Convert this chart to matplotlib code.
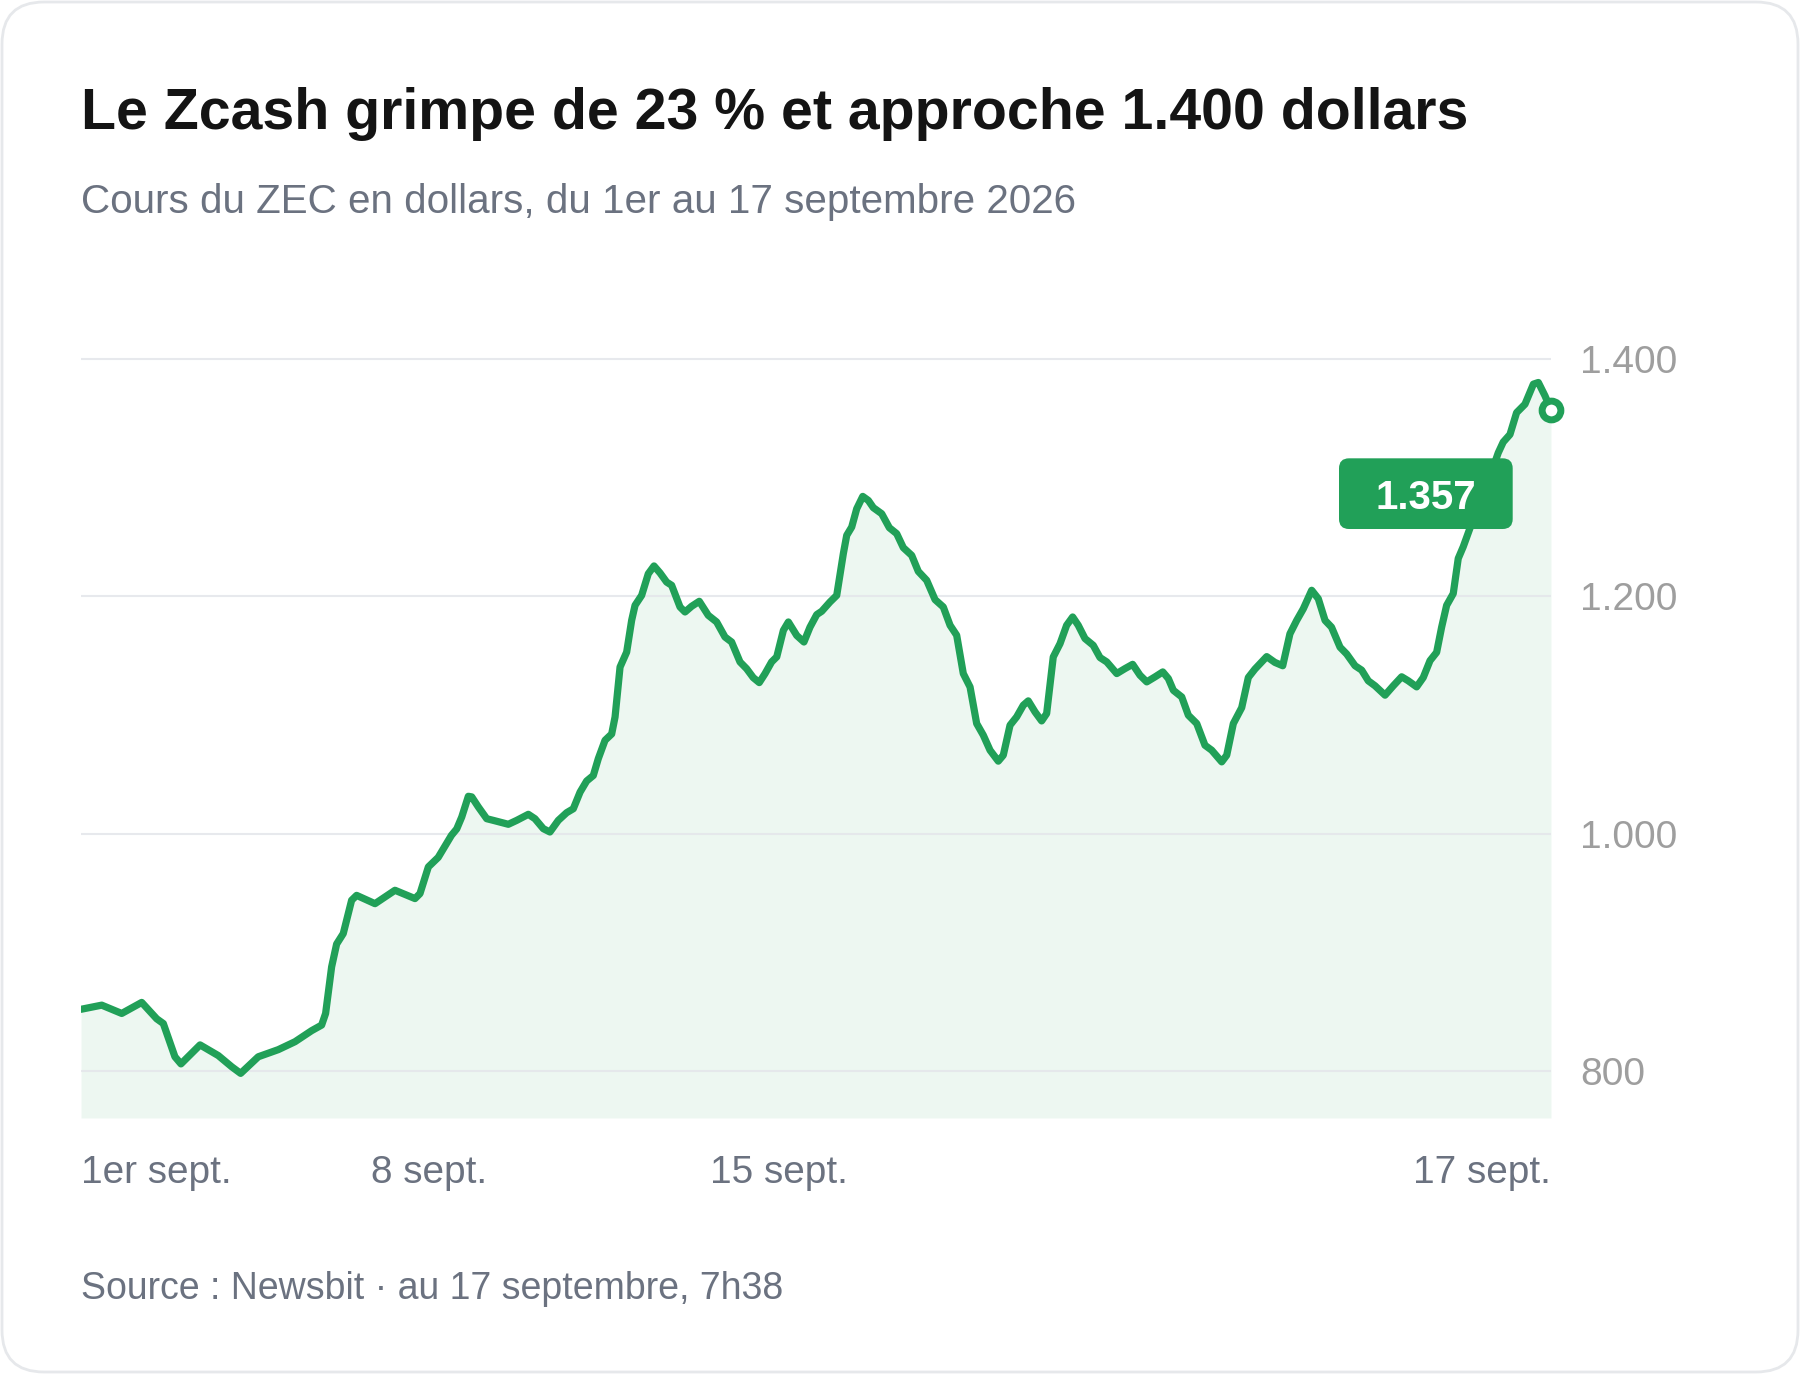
import matplotlib
matplotlib.use("Agg")
import matplotlib.pyplot as plt
from matplotlib.patches import FancyBboxPatch
from matplotlib.transforms import ScaledTranslation

plt.rcParams['font.family'] = ['Liberation Sans', 'DejaVu Sans']

# position along the timeline (0 = 1er sept., 100 = 17 sept. 7h38) and ZEC price in dollars
t = [0.00, 1.41, 2.77, 4.13, 5.15, 5.60, 6.39, 6.80, 8.10, 9.34,
     10.25, 10.86, 12.06, 13.42, 14.56, 15.69, 16.37, 16.64, 17.05, 17.39,
     17.84, 18.41, 18.75, 20.00, 21.36, 22.72, 23.06, 23.63, 24.30, 25.20,
     25.56, 25.90, 26.35, 26.58, 27.03, 27.60, 28.05, 29.07, 29.64, 30.43,
     30.88, 31.45, 31.90, 32.47, 33.04, 33.49, 33.95, 34.40, 34.85, 35.19,
     35.65, 36.10, 36.33, 36.67, 37.12, 37.46, 37.69, 38.14, 38.59, 38.98,
     39.39, 39.84, 40.18, 40.75, 41.09, 41.54, 42.06, 42.67, 43.24, 43.81,
     44.26, 44.83, 45.28, 45.73, 46.14, 46.53, 46.98, 47.33, 47.78, 48.12,
     48.69, 49.18, 49.59, 50.05, 50.39, 50.95, 51.41, 51.86, 52.09, 52.43,
     52.77, 53.18, 53.56, 53.90, 54.47, 54.99, 55.49, 55.94, 56.51, 56.96,
     57.53, 58.10, 58.66, 59.12, 59.57, 60.02, 60.48, 60.93, 61.38, 61.84,
     62.40, 62.74, 63.20, 63.65, 64.10, 64.44, 64.90, 65.35, 65.69, 66.14,
     66.60, 67.05, 67.46, 67.84, 68.30, 68.86, 69.32, 69.78, 70.46, 71.02,
     71.54, 72.04, 72.50, 73.06, 73.59, 73.97, 74.31, 74.88, 75.33, 75.90,
     76.46, 76.92, 77.60, 77.94, 78.39, 78.96, 79.41, 79.86, 80.66, 81.22,
     81.75, 82.24, 82.70, 83.15, 83.72, 84.17, 84.63, 85.07, 85.65, 86.10,
     86.67, 87.12, 87.57, 88.03, 88.71, 89.27, 89.84, 90.29, 90.86, 91.31,
     91.77, 92.22, 92.56, 92.90, 93.35, 93.69, 94.03, 94.61, 95.17, 95.85,
     96.41, 96.75, 97.21, 97.66, 98.23, 98.80, 99.14, 99.59, 100.00]
price = [852, 855.5, 848.5, 857.8, 844, 840, 812, 806, 822, 813,
         803.6, 798, 812, 818, 824.7, 834, 838.7, 848.5, 887.8, 907,
         915.8, 943.9, 948, 941, 952.3, 945.3, 949.5, 972, 980, 998.6,
         1004, 1014, 1031.5, 1031, 1022.5, 1012.6, 1011.2, 1007.9, 1011.2, 1016.3,
         1012.6, 1004.2, 1001.4, 1011.2, 1017.7, 1021, 1035, 1044.4, 1049, 1063.2,
         1078.7, 1084, 1098.3, 1140.4, 1153, 1179.8, 1192.4, 1200.8, 1219, 1225.6,
         1219.7, 1212, 1209.3, 1191, 1186.8, 1191.6, 1195.8, 1184, 1178.4, 1165.7,
         1161.5, 1144.7, 1139, 1131.5, 1127.3, 1134.8, 1144.7, 1149, 1171.3, 1178.4,
         1167, 1161.5, 1174, 1184.6, 1187.4, 1195.2, 1200.8, 1236, 1251.4, 1258.4,
         1273.8, 1284.2, 1280.8, 1274.7, 1269.6, 1257.8, 1252.8, 1241, 1234.5, 1221,
         1213.5, 1197.2, 1191, 1175.6, 1167.2, 1134.9, 1123.6, 1092.8, 1083, 1070.3,
         1061.1, 1066.1, 1091.4, 1098.4, 1108.2, 1111.9, 1102.6, 1095, 1101.2, 1148.9,
         1160.1, 1175.6, 1182.6, 1175.6, 1164.4, 1158.7, 1148.4, 1144.7, 1134.9, 1139.1,
         1142.7, 1133.5, 1127.9, 1132.1, 1136.3, 1130.7, 1120.8, 1115.2, 1099.8, 1092.8,
         1074.5, 1070.3, 1060.5, 1066.1, 1092.8, 1106.2, 1131.6, 1138.7, 1149.2, 1144.3,
         1141.5, 1168.4, 1179.7, 1189.5, 1205.1, 1198, 1179.7, 1174, 1157.1, 1151.4,
         1141.5, 1137.8, 1128.8, 1124.6, 1116.7, 1124.6, 1132.2, 1128.8, 1123.7, 1131.6,
         1145.8, 1152.8, 1174, 1192.4, 1202.3, 1231.9, 1241.8, 1261.6, 1281, 1301,
         1320.9, 1330, 1336.4, 1354.8, 1361.9, 1378.8, 1380.2, 1369, 1357]

tick_pos = [0, 23.66, 47.5, 100]
tick_labels = ['1er sept.', '8 sept.', '15 sept.', '17 sept.']
y_ticks = [800, 1000, 1200, 1400]

title = "Le Zcash grimpe de 23 % et approche 1.400 dollars"
subtitle = "Cours du ZEC en dollars, du 1er au 17 septembre 2026"
source = "Source : Newsbit · au 17 septembre, 7h38"

GREEN = '#21a058'
GREY_TXT = '#6b7280'
GREY_TICK = '#9e9e9e'
y_min, y_max = 760.4, 1420

fig = plt.figure(figsize=(18, 13.74), dpi=100, facecolor='white')

card = FancyBboxPatch((0.02, 0.02), 17.96, 13.70, boxstyle="round,pad=0,rounding_size=0.42",
                      transform=fig.dpi_scale_trans, facecolor='white',
                      edgecolor='#e6e8eb', linewidth=2, zorder=-5)
fig.patches.append(card)

fig.text(81 / 1800, 1 - 129.3 / 1374, title, fontsize=41.2, fontweight='bold',
         color='#141414', va='baseline', ha='left')
fig.text(81 / 1800, 1 - 213.3 / 1374, subtitle, fontsize=29.1, color=GREY_TXT,
         va='baseline', ha='left')
fig.text(81 / 1800, 1 - 1299 / 1374, source, fontsize=27.0, color=GREY_TXT,
         va='baseline', ha='left')

ax = fig.add_axes([81 / 1800, 1 - 1118 / 1374, 1470 / 1800, (1118 - 335.25) / 1374])
ax.set_facecolor('none')
ax.set_xlim(0, 100)
ax.set_ylim(y_min, y_max)

ax.fill_between(t, price, y_min, color=GREEN, alpha=0.08, linewidth=0, zorder=1)
for yv in y_ticks:
    ax.axhline(yv, color='#e5e7eb', linewidth=1.5, zorder=2, alpha=0.9)
ax.plot(t, price, color=GREEN, linewidth=5.2, solid_joinstyle='round',
        solid_capstyle='round', zorder=3)
ax.plot(t[-1], price[-1], 'o', markersize=13.5, markerfacecolor='white',
        markeredgecolor=GREEN, markeredgewidth=5.0, zorder=5, clip_on=False)

for s in ax.spines.values():
    s.set_visible(False)

ax.yaxis.tick_right()
ax.set_yticks(y_ticks)
ax.set_yticklabels([f"{v:,}".replace(',', '.') for v in y_ticks])
ax.tick_params(axis='y', length=0, pad=20.9, labelsize=28, labelcolor=GREY_TICK)

ax.set_xticks(tick_pos)
ax.set_xticklabels(tick_labels)
ax.tick_params(axis='x', length=0, pad=26.8, labelsize=27.9, labelcolor=GREY_TXT)
xl = ax.get_xticklabels()
xl[0].set_ha('left')
xl[-1].set_ha('right')

# value badge, placed relative to the last point (in inches)
badge_tr = fig.dpi_scale_trans + ScaledTranslation(t[-1], price[-1], ax.transData)
badge = FancyBboxPatch((-2.12, -1.19), 1.737, 0.707, boxstyle="round,pad=0,rounding_size=0.1",
                       transform=badge_tr, facecolor=GREEN, edgecolor='none', zorder=6,
                       clip_on=False)
ax.add_patch(badge)
ax.text(-1.25, -0.993, f"{price[-1]:,.0f}".replace(',', '.'), transform=badge_tr,
        ha='center', va='baseline', fontsize=29, fontweight='bold', color='white',
        zorder=7, clip_on=False)

fig.savefig('out.png', dpi=100, facecolor='white')
